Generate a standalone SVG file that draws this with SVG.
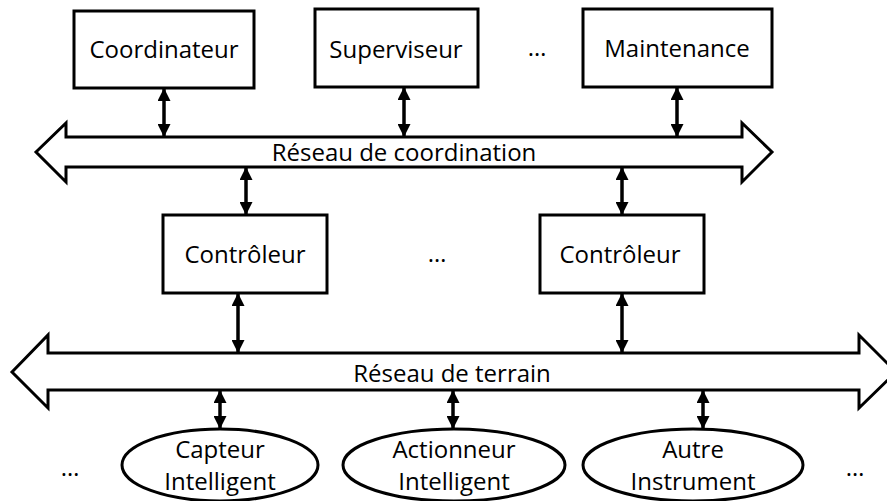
<svg xmlns="http://www.w3.org/2000/svg" width="887" height="501" viewBox="0 0 887 501">
<style>
.box{fill:#fff;stroke:#000;stroke-width:3}
.net{fill:#fff;stroke:#000;stroke-width:3;stroke-linejoin:miter}
.t{font-family:"Open Sans","Liberation Sans",sans-serif;font-size:24px;fill:#000;text-anchor:middle}
.c{stroke:#000;stroke-width:3.5;fill:none}
</style>
<defs>
<marker id="ah" markerUnits="userSpaceOnUse" markerWidth="13" markerHeight="13" refX="12" refY="6.5" orient="auto-start-reverse" viewBox="0 0 13 13">
<path d="M0,0 L13,6.5 L0,13 Z" fill="#000"/>
</marker>
</defs>
<rect width="887" height="501" fill="#fff"/>
<g id="reseau-coordination">
<path class="net" d="M36,152 L66,123 L66,137 L742,137 L742,123 L772,152 L742,182 L742,167 L66,167 L66,182 Z"/>
<text class="t" x="404" y="161">Réseau de coordination</text>
</g>
<g id="reseau-terrain">
<path class="net" d="M12,372 L48,335 L48,353 L859,353 L859,335 L896,372 L859,408 L859,390 L48,390 L48,408 Z"/>
<text class="t" x="452" y="382">Réseau de terrain</text>
</g>
<g id="coordinateur"><rect class="box" x="74" y="11" width="180" height="77"/><text class="t" x="164" y="58">Coordinateur</text></g>
<g id="superviseur"><rect class="box" x="315" y="9" width="163" height="78"/><text class="t" x="396" y="58">Superviseur</text></g>
<g id="dots-top"><text class="t" x="537" y="56">…</text></g>
<g id="maintenance"><rect class="box" x="583" y="9" width="189" height="78"/><text class="t" x="677" y="57">Maintenance</text></g>
<g id="controleur1"><rect class="box" x="163" y="215" width="164" height="78"/><text class="t" x="245" y="263">Contrôleur</text></g>
<g id="dots-mid"><text class="t" x="437" y="262">…</text></g>
<g id="controleur2"><rect class="box" x="540" y="215" width="164" height="78"/><text class="t" x="620" y="263">Contrôleur</text></g>
<g id="capteur"><ellipse class="box" cx="220" cy="465" rx="98" ry="36"/><text class="t" x="220" y="458">Capteur</text><text class="t" x="220" y="490">Intelligent</text></g>
<g id="actionneur"><ellipse class="box" cx="454" cy="465" rx="111" ry="36"/><text class="t" x="454" y="458">Actionneur</text><text class="t" x="454" y="490">Intelligent</text></g>
<g id="autre"><ellipse class="box" cx="693" cy="465" rx="110" ry="36"/><text class="t" x="693" y="458">Autre</text><text class="t" x="693" y="490">Instrument</text></g>
<g id="dots-bl"><text class="t" x="70" y="476">…</text></g>
<g id="dots-br"><text class="t" x="855" y="476">…</text></g>
<g id="connectors">
<line class="c" x1="164" y1="89" x2="164" y2="136" marker-start="url(#ah)" marker-end="url(#ah)"/>
<line class="c" x1="404" y1="88" x2="404" y2="136" marker-start="url(#ah)" marker-end="url(#ah)"/>
<line class="c" x1="677" y1="88" x2="677" y2="136" marker-start="url(#ah)" marker-end="url(#ah)"/>
<line class="c" x1="246" y1="168" x2="246" y2="214" marker-start="url(#ah)" marker-end="url(#ah)"/>
<line class="c" x1="622" y1="168" x2="622" y2="214" marker-start="url(#ah)" marker-end="url(#ah)"/>
<line class="c" x1="238" y1="294" x2="238" y2="352" marker-start="url(#ah)" marker-end="url(#ah)"/>
<line class="c" x1="622" y1="294" x2="622" y2="352" marker-start="url(#ah)" marker-end="url(#ah)"/>
<line class="c" x1="220" y1="391" x2="220" y2="428" marker-start="url(#ah)" marker-end="url(#ah)"/>
<line class="c" x1="453" y1="391" x2="453" y2="428" marker-start="url(#ah)" marker-end="url(#ah)"/>
<line class="c" x1="703" y1="391" x2="703" y2="428" marker-start="url(#ah)" marker-end="url(#ah)"/>
</g>
</svg>
